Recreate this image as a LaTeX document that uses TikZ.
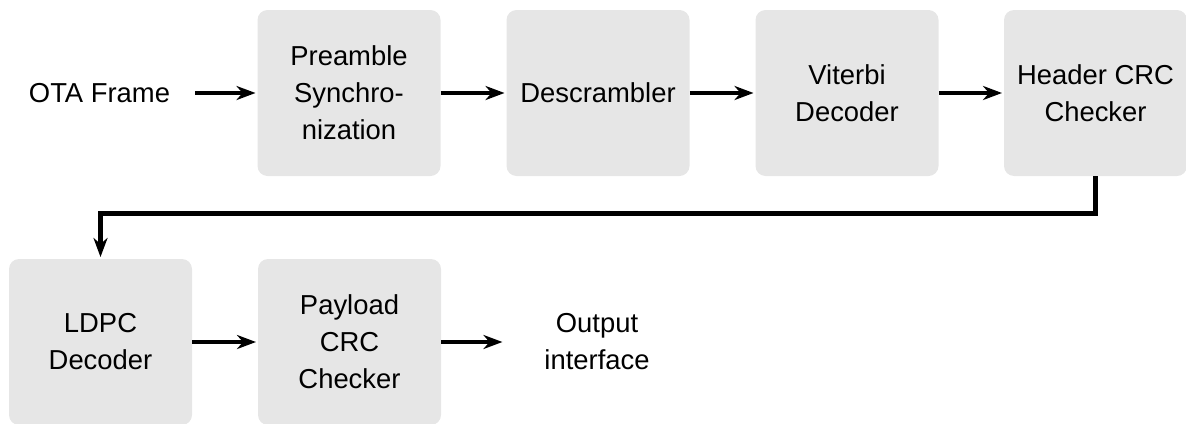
\documentclass[tikz,border=0pt]{standalone}
\usepackage{fontspec}
\setmainfont{Liberation Sans}
\usetikzlibrary{arrows.meta}
\definecolor{boxgray}{RGB}{230,230,230}
\begin{document}
\begin{tikzpicture}[x=0.5pt,y=-0.5pt,
  txt/.style={font=\fontsize{13.7}{18.5}\selectfont, align=center},
  blockbox/.style={txt, fill=boxgray, rounded corners=5pt, minimum width=91.5pt, minimum height=83pt, inner sep=0pt},
  plain/.style={txt, inner sep=0pt},
  flow/.style={line width=2.4pt, -{Stealth[length=9.5pt,width=7pt,inset=3pt]}, shorten >=0.8pt}]
\useasboundingbox (0,0) rectangle (1186,423);
\node[plain] (ota) at (99.5,93) {OTA Frame};
\node[blockbox] (pre) at (349,93) {Preamble\\Synchro-\\nization};
\node[blockbox] (des) at (598,93) {Descrambler};
\node[blockbox] (vit) at (847,93) {Viterbi\\Decoder};
\node[blockbox] (hdr) at (1095.5,93) {Header CRC\\Checker};
\node[blockbox] (ldpc) at (100.5,342) {LDPC\\Decoder};
\node[blockbox] (pay) at (349.5,342) {Payload\\CRC\\Checker};
\node[plain] (out) at (597,342) {Output\\interface};
\draw[flow] ([xshift=12.5pt]ota.east) -- (pre.west);
\draw[flow] (pre.east) -- (des.west);
\draw[flow] (des.east) -- (vit.west);
\draw[flow] (vit.east) -- (hdr.west);
\draw[flow] (hdr.south) -- ++(0,37) -| (ldpc.north);
\draw[flow] (ldpc.east) -- (pay.west);
\draw[flow] (pay.east) -- ([xshift=-20pt]out.west);
\end{tikzpicture}
\end{document}
